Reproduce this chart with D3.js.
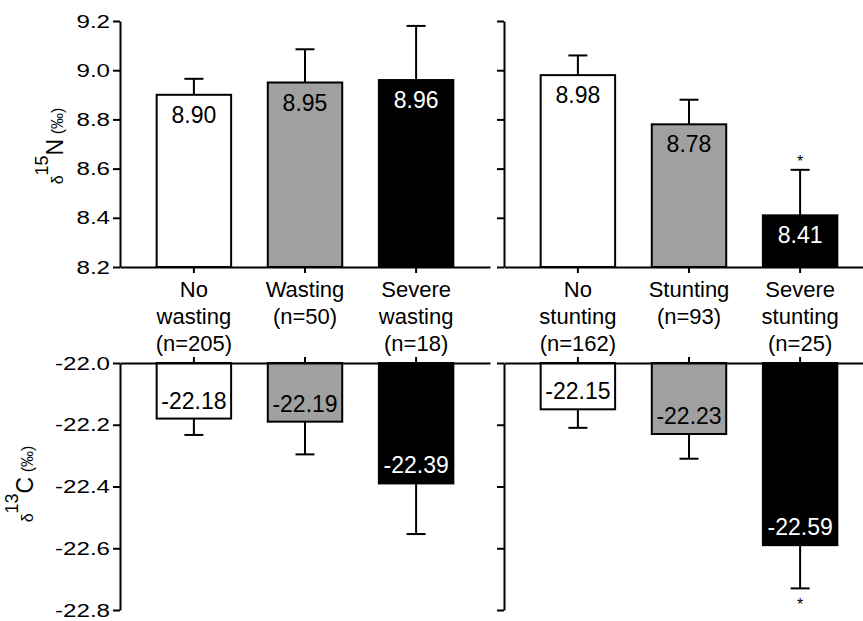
<!DOCTYPE html>
<html>
<head>
<meta charset="utf-8">
<script src="https://cdn.jsdelivr.net/npm/d3@7"></script>
<style>
    body { margin: 0; background: #fff; }
    svg text { font-family: "Liberation Sans", Arial, sans-serif; }
</style>
</head>
<body>
<script>
// chart size
var width = 863
var height = 621

// data
const groups = ["none", "moderate", "severe"]
const wastingLabels = [["No", "wasting", "(n=205)"], ["Wasting", "(n=50)"], ["Severe", "wasting", "(n=18)"]]
const stuntingLabels = [["No", "stunting", "(n=162)"], ["Stunting", "(n=93)"], ["Severe", "stunting", "(n=25)"]]

const n15Wasting = [8.90, 8.95, 8.96]
const n15WastingErr = [0.065, 0.135, 0.22]
const n15Stunting = [8.98, 8.78, 8.41]
const n15StuntingErr = [0.08, 0.10, 0.185]

const c13Wasting = [-22.18, -22.19, -22.39]
const c13WastingErr = [0.053, 0.106, 0.164]
const c13Stunting = [-22.15, -22.23, -22.59]
const c13StuntingErr = [0.06, 0.08, 0.14]

const n15Signif = [false, false, true]
const c13Signif = [false, false, true]

const n15Ticks = [8.2, 8.4, 8.6, 8.8, 9.0, 9.2]
const c13Ticks = [-22.0, -22.2, -22.4, -22.6, -22.8]

const fills = ["#ffffff", "#a0a0a0", "#000000"]
const labelFills = ["#000000", "#000000", "#ffffff"]

// plain hyphen for negatives, like the original figure
var locale = d3.formatLocale({ decimal: ".", thousands: ",", grouping: [3], currency: ["", ""], minus: "-" })
var fmt = locale.format(".2f")
var fmtTick = locale.format(".1f")

var svg = d3.select("body").append("svg")
    .attr("width", width)
    .attr("height", height);

var yTop = d3.scaleLinear().domain([8.2, 9.2]).range([267, 21]);
var yBot = d3.scaleLinear().domain([-22.0, -22.8]).range([363, 610]);

function panelX(x0) {
    return d3.scaleBand()
        .domain(groups)
        .range([x0, x0 + 370])
        .paddingInner(0.33)
        .paddingOuter(0.33);
}

var xLeft = panelX(120);
var xRight = panelX(504);

function renderBars(x, y, base, values, errs, signif, dir) {
    var g = svg.append("g");
    var rows = values.map(function (v, i) {
        return { key: groups[i], v: v, e: errs[i], s: signif[i], i: i };
    });
    var bw = x.bandwidth();
    var cx = function (d) { return x(d.key) + bw / 2; };

    // error bars, one-sided away from the baseline
    g.selectAll("line.err")
        .data(rows).enter().append("line")
        .attr("x1", cx).attr("x2", cx)
        .attr("y1", function (d) { return y(d.v); })
        .attr("y2", function (d) { return y(d.v + dir * d.e); })
        .style("stroke", "#000").style("stroke-width", 2);

    g.selectAll("line.cap")
        .data(rows).enter().append("line")
        .attr("x1", function (d) { return cx(d) - 9.5; })
        .attr("x2", function (d) { return cx(d) + 9.5; })
        .attr("y1", function (d) { return y(d.v + dir * d.e); })
        .attr("y2", function (d) { return y(d.v + dir * d.e); })
        .style("stroke", "#000").style("stroke-width", 2);

    g.selectAll("rect")
        .data(rows).enter().append("rect")
        .attr("x", function (d) { return x(d.key); })
        .attr("width", bw)
        .attr("y", function (d) { return Math.min(y(d.v), y(base)); })
        .attr("height", function (d) { return Math.abs(y(d.v) - y(base)); })
        .style("fill", function (d) { return fills[d.i]; })
        .style("stroke", "#000")
        .style("stroke-width", 2);

    g.selectAll("text.val")
        .data(rows).enter().append("text")
        .attr("x", cx)
        .attr("y", function (d) { return dir > 0 ? y(d.v) + 28 : y(d.v) - 10; })
        .attr("text-anchor", "middle")
        .style("font-size", "23px")
        .style("fill", function (d) { return labelFills[d.i]; })
        .text(function (d) { return fmt(d.v); });

    g.selectAll("text.star")
        .data(rows.filter(function (d) { return d.s; })).enter().append("text")
        .attr("x", cx)
        .attr("y", function (d) { return dir > 0 ? y(d.v + d.e) - 3 : y(d.v - d.e) + 22; })
        .attr("text-anchor", "middle")
        .style("font-size", "16px")
        .text("*");
}

function renderYAxis(x0, y, ticks, labels) {
    var axis = d3.axisLeft(y)
        .tickValues(ticks)
        .tickSize(7)
        .tickSizeOuter(0)
        .tickPadding(3)
        .tickFormat(labels ? fmtTick : "");
    var g = svg.append("g")
        .attr("transform", "translate(" + x0 + ",0)")
        .call(axis);
    g.select(".domain").style("stroke-width", 2);
    g.selectAll(".tick line").style("stroke-width", 2);
    g.selectAll(".tick text")
        .style("font-size", "19px")
        .style("font-family", "'Liberation Sans', Arial, sans-serif")
        .attr("transform", "scale(1.27,1)")
        .attr("x", -10 / 1.27);
}

function renderXAxis(x, y0, top) {
    var axis = (top ? d3.axisTop(x) : d3.axisBottom(x))
        .tickSize(6)
        .tickSizeOuter(0)
        .tickFormat("");
    var g = svg.append("g")
        .attr("transform", "translate(0," + y0 + ")")
        .call(axis);
    g.select(".domain").style("stroke-width", 2);
    g.selectAll(".tick line").style("stroke-width", 2);
}

function renderCategories(x, labels) {
    labels.forEach(function (lines, i) {
        var t = svg.append("text")
            .attr("text-anchor", "middle")
            .style("font-size", "22px");
        lines.forEach(function (s, j) {
            t.append("tspan")
                .attr("x", x(groups[i]) + x.bandwidth() / 2)
                .attr("y", 297 + j * 27)
                .text(s);
        });
    });
}

function renderTitle(xBase, yMid, iso, el) {
    var t = svg.append("text")
        .attr("transform", "translate(" + xBase + "," + yMid + ") rotate(-90)")
        .attr("text-anchor", "middle")
        .style("font-size", "22px");
    t.append("tspan").style("font-size", "16px").text("\u03b4");
    t.append("tspan").style("font-size", "18px").attr("dy", -15).text(iso);
    t.append("tspan").style("font-size", "23px").attr("dy", 15).text(el);
    t.append("tspan").style("font-size", "16px").text(" (\u2030)");
}

renderBars(xLeft, yTop, 8.2, n15Wasting, n15WastingErr, [false, false, false], 1);
renderBars(xRight, yTop, 8.2, n15Stunting, n15StuntingErr, n15Signif, 1);
renderBars(xLeft, yBot, -22.0, c13Wasting, c13WastingErr, [false, false, false], -1);
renderBars(xRight, yBot, -22.0, c13Stunting, c13StuntingErr, c13Signif, -1);

renderXAxis(xLeft, 267, false);
renderXAxis(xRight, 267, false);
renderXAxis(xLeft, 363, true);
renderXAxis(xRight, 363, true);

renderYAxis(120, yTop, n15Ticks, true);
renderYAxis(504, yTop, n15Ticks, false);
renderYAxis(120, yBot, c13Ticks, true);
renderYAxis(504, yBot, c13Ticks, false);

renderCategories(xLeft, wastingLabels);
renderCategories(xRight, stuntingLabels);

renderTitle(63, 146, "15", "N");
renderTitle(33, 484, "13", "C");
</script>
</body>
</html>
